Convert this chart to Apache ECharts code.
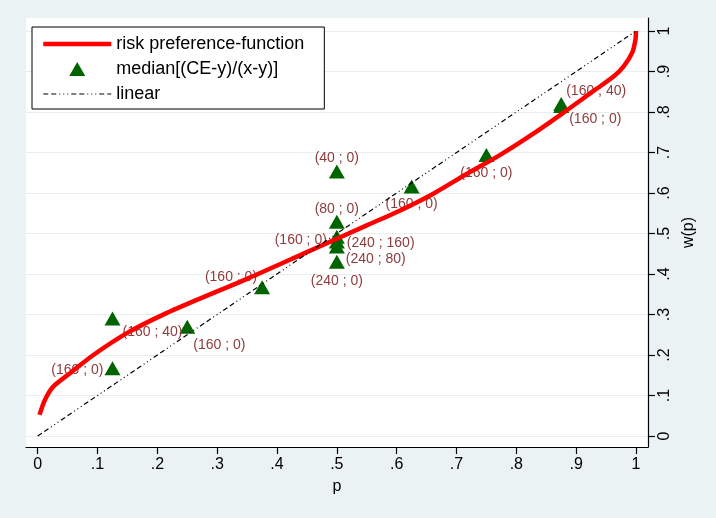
<!DOCTYPE html>
<html>
<head>
<meta charset="utf-8">
<script src="https://cdn.jsdelivr.net/npm/echarts@6/dist/echarts.min.js"></script>
<style>
html,body{margin:0;padding:0;background:#eaf2f3;}
#c{width:716px;height:518px;}
</style>
</head>
<body>
<div id="c"></div>
<script>
// ---- data ----
const curveP = [0.003, 0.012, 0.026, 0.054, 0.093, 0.149, 0.2045, 0.266, 0.35, 0.45, 0.55, 0.606, 0.662, 0.717, 0.773, 0.829, 0.885, 0.929, 0.963, 0.980, 0.994, 0.999, 1.0];
const curveW = [0.052, 0.089, 0.122, 0.155, 0.200, 0.254, 0.296, 0.336, 0.388, 0.454, 0.520, 0.557, 0.599, 0.647, 0.694, 0.747, 0.805, 0.852, 0.888, 0.914, 0.948, 0.978, 1.0];

const medianP = [0.125, 0.125, 0.25, 0.375, 0.5, 0.5, 0.5, 0.5, 0.5, 0.5, 0.625, 0.75, 0.875, 0.875];
const medianW = [0.290, 0.167, 0.270, 0.367, 0.653, 0.529, 0.492, 0.480, 0.468, 0.430, 0.616, 0.694, 0.820, 0.815];
const medianLabel = ['(160 ; 40)', '(160 ; 0)', '(160 ; 0)', '(160 ; 0)', '(40 ; 0)', '(80 ; 0)', '(160 ; 0)', '(240 ; 160)', '(240 ; 80)', '(240 ; 0)', '(160 ; 0)', '(160 ; 0)', '(160 ; 40)', '(160 ; 0)'];

const linearP = [0, 1];
const linearW = [0, 1];

const pTicks = [0, 0.1, 0.2, 0.3, 0.4, 0.5, 0.6, 0.7, 0.8, 0.9, 1];
const wTicks = [0, 0.1, 0.2, 0.3, 0.4, 0.5, 0.6, 0.7, 0.8, 0.9, 1];

const seriesNames = ['risk preference-function', 'median[(CE-y)/(x-y)]', 'linear'];

// ---- label placement (styling, per point): [dx, dy, align] relative to the marker centre ----
const labelPlace = [
  [10, 14, 'left'], [-9, 2, 'right'], [6, 18, 'left'], [-5, -10, 'right'],
  [0, -13, 'center'], [0, -13, 'center'], [-10, 3, 'right'], [10, 2, 'left'],
  [9, 13, 'left'], [0, 19, 'center'], [0, 18, 'center'], [0, 18, 'center'],
  [5, -13, 'left'], [8, 13, 'left']
];

const FONT = 'Liberation Sans, Arial, Helvetica, sans-serif';
const SYM_W = 16, SYM_H = 14;

function fmt(v) {
  if (v === 0) return '0';
  if (v === 1) return '1';
  return String(Math.round(v * 10) / 10).replace(/^0\./, '.');
}

const curveData = curveP.map((p, i) => [p, curveW[i]]);
const linearData = linearP.map((p, i) => [p, linearW[i]]);
const medianData = medianP.map((p, i) => {
  const pl = labelPlace[i];
  return {
    value: [p, medianW[i]],
    label: {
      show: true,
      formatter: medianLabel[i],
      position: [SYM_W / 2 + pl[0], SYM_H / 2 + pl[1]],
      align: pl[2],
      verticalAlign: 'middle'
    }
  };
});

const chart = echarts.init(document.getElementById('c'), null, {renderer: 'canvas'});
chart.setOption({
  backgroundColor: '#eaf2f3',
  animation: false,
  textStyle: {fontFamily: FONT},
  grid: {
    left: 26, right: 68, top: 18, bottom: 71,
    show: true, backgroundColor: '#ffffff', borderWidth: 0,
    containLabel: false, outerBoundsMode: 'none'
  },
  legend: {
    left: 32, top: 27, orient: 'vertical',
    backgroundColor: '#ffffff', borderColor: '#000000', borderWidth: 1, borderRadius: 0,
    padding: [8, 20, 6, 9], itemGap: 7, itemWidth: 68, itemHeight: 16,
    textStyle: {fontSize: 18, color: '#000', fontFamily: FONT},
    lineStyle: {width: 'inherit'},
    data: [
      {name: seriesNames[0], itemStyle: {opacity: 0}},
      {name: seriesNames[1], icon: 'path://M0,0M68,16M26,15L34,1L42,15Z'},
      {name: seriesNames[2], itemStyle: {opacity: 0}}
    ]
  },
  xAxis: {
    type: 'value', min: -0.01956, max: 1.02006,
    name: 'p', nameLocation: 'middle', nameGap: 32,
    nameTextStyle: {fontSize: 16, color: '#000', fontFamily: FONT},
    axisLine: {show: true, onZero: false, lineStyle: {color: '#000', width: 1.2}},
    axisTick: {show: true, length: 7, inside: false, customValues: pTicks, lineStyle: {color: '#000', width: 1.2}},
    axisLabel: {show: true, customValues: pTicks, margin: 10, fontSize: 16, color: '#000', fontFamily: FONT, formatter: fmt},
    splitLine: {show: false}
  },
  yAxis: {
    type: 'value', position: 'right', min: -0.02716, max: 1.0321,
    name: 'w(p)', nameLocation: 'middle', nameGap: 32, nameRotate: 90,
    nameTextStyle: {fontSize: 16, color: '#000', fontFamily: FONT},
    axisLine: {show: true, onZero: false, lineStyle: {color: '#000', width: 1.2}},
    axisTick: {show: true, length: 7, inside: false, customValues: wTicks, lineStyle: {color: '#000', width: 1.2}},
    axisLabel: {show: true, customValues: wTicks, rotate: 90, margin: 9, fontSize: 16, color: '#000', fontFamily: FONT, formatter: fmt},
    splitLine: {show: true, lineStyle: {color: '#e6eef1', width: 1.2}}
  },
  series: [
    {
      name: seriesNames[0], type: 'line', data: curveData,
      symbol: 'none', smooth: 0.3, clip: false,
      lineStyle: {color: '#ff0000', width: 4.5},
      itemStyle: {color: '#ff0000'}
    },
    {
      name: seriesNames[1], type: 'scatter', data: medianData,
      symbol: 'triangle', symbolSize: [SYM_W, SYM_H],
      itemStyle: {color: '#006400', opacity: 1},
      label: {show: true, fontSize: 14, color: '#8c3c3c', fontFamily: FONT},
      emphasis: {disabled: true}
    },
    {
      name: seriesNames[2], type: 'line', data: linearData,
      symbol: 'none', clip: false,
      lineStyle: {color: '#000', width: 1.2, type: [5, 3, 5, 3, 1, 3, 1, 3, 1, 3]},
      itemStyle: {color: '#000'}
    }
  ]
});
</script>
</body>
</html>
